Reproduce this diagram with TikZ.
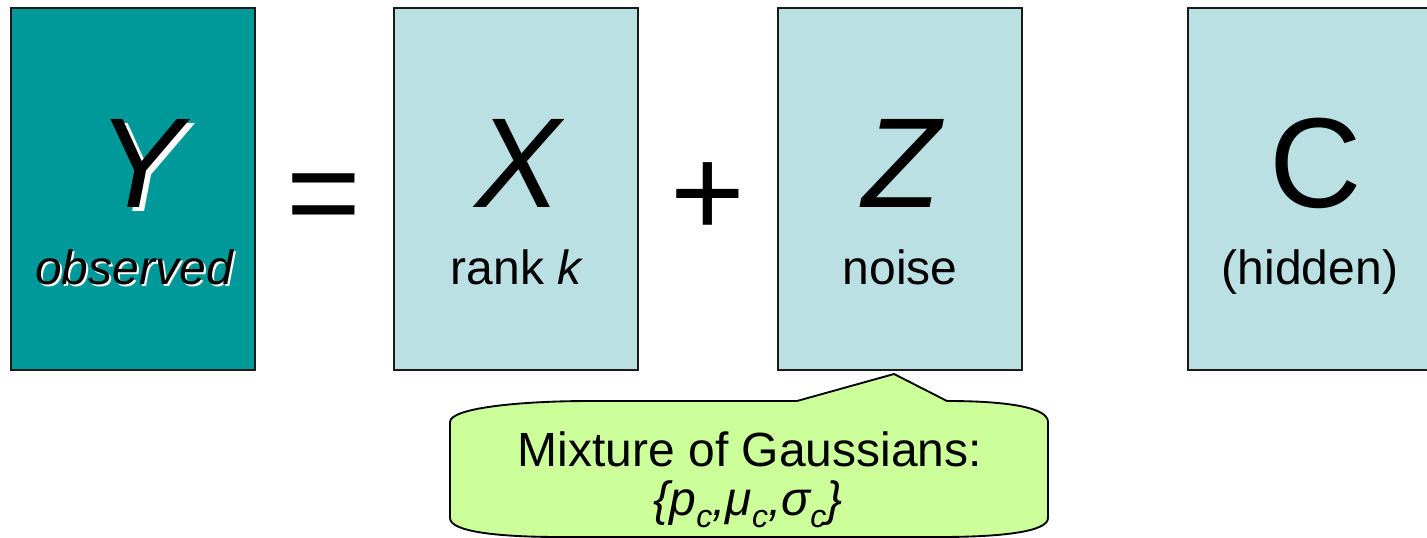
\documentclass[tikz,border=0pt]{standalone}
\usepackage{fontspec}
\setmainfont{Liberation Sans}
\definecolor{teal1}{HTML}{009999}
\definecolor{lblue}{HTML}{BBE0E3}
\definecolor{lgreen}{HTML}{CCFF99}
\definecolor{edgec}{HTML}{1A1A1A}
\newcommand\lowsub[1]{\raisebox{-0.25em}{\fontsize{24}{24}\selectfont #1}}
\newcommand\shadowed[3]{\makebox[0pt][l]{\hspace*{#1}\raisebox{-#2}{\color{white}#3}}#3}
\begin{document}
\begin{tikzpicture}[x=0.75pt,y=-0.75pt,
  box/.style={draw=edgec,line width=1.1pt,minimum width=183pt,minimum height=271.5pt,inner sep=0pt,outer sep=0pt},
  big/.style={font=\fontsize{96}{96}\selectfont,inner sep=0pt,anchor=base},
  sub/.style={font=\fontsize{36}{40}\selectfont,inner sep=0pt,anchor=base},
  callout/.style={fill=lgreen,draw=black,line width=1.4pt,line join=round}]
\useasboundingbox (0,0) rectangle (1427,538);
\clip (0,0) rectangle (1427,538);
% boxes
\node[box,fill=teal1] (ybox) at (133,189) {};
\node[box,fill=lblue] (xbox) at (516,189) {};
\node[box,fill=lblue] (zbox) at (900,189) {};
\node[box,fill=lblue] (cbox) at (1310,189) {};
% Y with shadow
\node[big] (ylet) at (140,208) {\itshape\shadowed{3.75pt}{3pt}{Y}};
\node[sub] (obs) at (134,285) {\itshape\shadowed{1.5pt}{1.5pt}{observed}};
% X, Z, C
\node[big] (xlet) at (518,208) {\itshape X};
\node[sub] (rank) at (516,285) {rank \itshape k};
\node[big] (zlet) at (902,208) {\itshape Z};
\node[sub] (noise) at (900,285) {noise};
\node[big] (clet) at (1316,208) {C};
\node[sub] (hidden) at (1310,285) {(hidden)};
% operators
\node[big] (eq) at (324,237) {=};
\node[big] (plus) at (708,237) {+};
% callout
\draw[callout] (450,422) .. controls (450,408) and (520,401) .. (590,401)
  -- (797,401) -- (894,374) -- (947,401)
  .. controls (1010,401) and (1048,408) .. (1048,422)
  -- (1048,518) .. controls (1048,532) and (1000,537) .. (940,537)
  -- (560,537) .. controls (500,537) and (450,532) .. (450,518) -- cycle;
\node[sub] (mix) at (750,466) {Mixture of Gaussians:};
\node[sub] (mixb) at (748,515) {\itshape\{p\lowsub{c},μ\lowsub{c},σ\lowsub{c}\}};
\end{tikzpicture}
\end{document}
